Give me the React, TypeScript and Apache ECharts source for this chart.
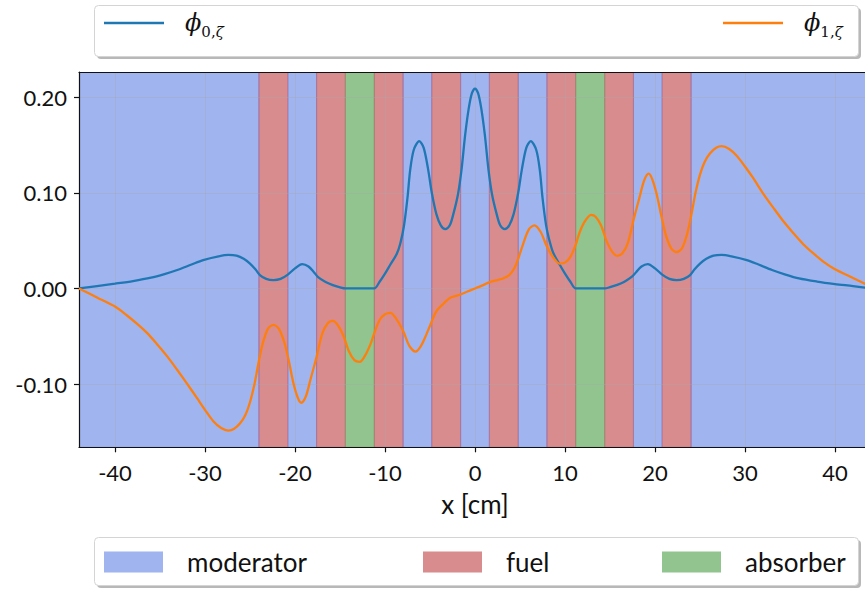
import React, { useEffect, useRef } from "react";
import * as echarts from "echarts";

// ---- data ----
const xTicks = [-40, -30, -20, -10, 0, 10, 20, 30, 40];
const yTicks = [-0.1, 0, 0.1, 0.2];

const moderatorSpans = [[-44, -24], [-20.8, -17.6], [-8, -4.8], [-1.6, 1.6], [4.8, 8], [17.6, 20.8], [24, 44]];
const fuelSpans = [[-24, -20.8], [-17.6, -14.4], [-11.2, -8], [-4.8, -1.6], [1.6, 4.8], [8, 11.2], [14.4, 17.6], [20.8, 24]];
const absorberSpans = [[-14.4, -11.2], [11.2, 14.4]];

const phi0X = [
  -44, -42, -40, -38, -36, -34.5, -33, -31.5, -30.2, -28.5, -27.4, -26.5, -25.7, -25.0, -24.4, -23.9, -23.2, -22.4,
  -21.6, -20.8, -20.0, -19.2, -18.5, -17.9, -17.4, -16.6, -15.8, -15.0, -14.4, -12.8, -11.2, -10.6, -10.0, -9.4,
  -8.7, -8.3, -7.9, -7.5, -7.2, -6.8, -6.2, -5.7, -5.2, -4.8, -4.3, -3.8, -3.3, -2.8, -2.4, -1.9, -1.5, -1.1, -0.7,
  -0.35, 0, 0.35, 0.7, 1.1, 1.5, 1.9, 2.4, 2.8, 3.3, 3.8, 4.3, 4.8, 5.2, 5.7, 6.2, 6.8, 7.2, 7.5, 7.9, 8.3, 8.7,
  9.4, 10.0, 10.6, 11.2, 12.8, 14.4, 15.0, 15.8, 16.6, 17.4, 17.9, 18.5, 19.2, 20.0, 20.8, 21.6, 22.4, 23.2, 23.9,
  24.4, 25.0, 25.7, 26.5, 27.4, 28.5, 30.2, 31.5, 33.0, 34.5, 36.0, 38.0, 40.0, 42.0, 44.0,
];
const phi0Y = [
  0, 0.0025, 0.005, 0.0077, 0.0112, 0.015, 0.0195, 0.025, 0.0296, 0.0335, 0.035, 0.0342, 0.031, 0.026, 0.02, 0.014,
  0.01, 0.0087, 0.01, 0.0145, 0.021, 0.0254, 0.023, 0.017, 0.0115, 0.0068, 0.0035, 0.0012, 0, 0, 0, 0.007, 0.0155,
  0.025, 0.036, 0.047, 0.065, 0.095, 0.124, 0.145, 0.154, 0.147, 0.124, 0.1, 0.078, 0.066, 0.062, 0.066, 0.078,
  0.098, 0.124, 0.16, 0.188, 0.204, 0.209, 0.204, 0.188, 0.16, 0.124, 0.098, 0.078, 0.066, 0.062, 0.066, 0.078,
  0.1, 0.124, 0.147, 0.154, 0.145, 0.124, 0.095, 0.066, 0.049, 0.037, 0.025, 0.0155, 0.007, 0, 0, 0, 0.0013, 0.0037,
  0.007, 0.012, 0.017, 0.023, 0.0254, 0.021, 0.0145, 0.01, 0.0087, 0.01, 0.014, 0.02, 0.026, 0.031, 0.0342, 0.035,
  0.0335, 0.0296, 0.025, 0.0193, 0.0145, 0.0105, 0.0072, 0.0046, 0.0024, 0,
];

const phi1X = [
  -44, -42, -40, -38.7, -37.6, -36.5, -35.4, -34.2, -33.1, -32.0, -30.9, -30.0, -29.1, -28.2, -27.4, -26.8, -26.1,
  -25.5, -25.0, -24.5, -24.1, -23.6, -23.0, -22.4, -21.8, -21.2, -20.7, -20.2, -19.7, -19.3, -18.8, -18.3, -17.6,
  -17.0, -16.4, -15.8, -15.2, -14.6, -14.0, -13.4, -12.8, -12.2, -11.6, -11.2, -10.6, -10.0, -9.4, -8.8, -8.0,
  -7.3, -6.6, -6.0, -5.4, -5.0, -4.3, -3.5, -2.8, -1.7, -0.9, 0, 0.9, 1.7, 2.5, 3.1, 3.8, 4.3, 4.8, 5.4, 6.0, 6.6,
  7.3, 8.0, 8.8, 9.4, 10.0, 10.6, 11.2, 11.6, 12.2, 12.9, 13.4, 14.0, 14.6, 15.2, 15.8, 16.4, 17.0, 17.6, 18.3,
  18.8, 19.3, 19.7, 20.2, 20.7, 21.2, 21.8, 22.4, 23.0, 23.6, 24.1, 24.5, 25.0, 25.5, 26.1, 26.8, 27.4, 28.2, 29.1,
  30.0, 30.9, 32.0, 33.1, 34.2, 35.4, 36.5, 37.6, 38.7, 40.0, 42.0, 43.3, 44.0,
];
const phi1Y = [
  0, -0.0095, -0.019, -0.028, -0.0366, -0.046, -0.0575, -0.071, -0.085, -0.0995, -0.1145, -0.127, -0.1385, -0.146,
  -0.1487, -0.147, -0.141, -0.132, -0.119, -0.1, -0.08, -0.058, -0.042, -0.038, -0.042, -0.056, -0.075, -0.098,
  -0.114, -0.1195, -0.113, -0.096, -0.0714, -0.048, -0.037, -0.034, -0.039, -0.05, -0.066, -0.075, -0.0767, -0.07,
  -0.058, -0.047, -0.033, -0.027, -0.0255, -0.031, -0.044, -0.06, -0.066, -0.06, -0.048, -0.039, -0.024, -0.016,
  -0.01, -0.0066, -0.0035, 0, 0.0035, 0.0068, 0.0088, 0.0104, 0.014, 0.02, 0.031, 0.048, 0.062, 0.066, 0.059,
  0.0435, 0.031, 0.026, 0.027, 0.033, 0.046, 0.058, 0.07, 0.077, 0.075, 0.066, 0.05, 0.039, 0.034, 0.037, 0.048,
  0.071, 0.096, 0.113, 0.12, 0.114, 0.098, 0.076, 0.056, 0.042, 0.038, 0.042, 0.058, 0.08, 0.1, 0.119, 0.132, 0.141,
  0.147, 0.1487, 0.146, 0.1385, 0.1275, 0.1155, 0.0995, 0.085, 0.071, 0.0575, 0.046, 0.0366, 0.028, 0.02, 0.011,
  0.005, 0.0015,
];

const X_MIN = -44;
const X_MAX = 44;
const Y_MIN = -0.1661;
const Y_MAX = 0.2263;

const FONT = "Lato";
const MATH = "DejaVu Serif";

function spanRender(fill: string, stroke: string) {
  return (params: any, api: any) => {
    const x0 = api.coord([api.value(0), 0])[0];
    const x1 = api.coord([api.value(1), 0])[0];
    const cs = params.coordSys;
    return {
      type: "rect",
      shape: { x: x0, y: cs.y, width: x1 - x0, height: cs.height },
      style: { fill, stroke, lineWidth: 1 },
    };
  };
}

export default function App() {
  const ref = useRef<HTMLDivElement>(null);
  useEffect(() => {
    if (!ref.current) return;
    const chart = echarts.init(ref.current, null, { renderer: "svg" });
    const modColor = "#a0b4ef";
    const fuelColor = "#d88c8e";
    const absColor = "#91c48f";
    const mathRich = () => ({
      g: { width: 16 },
      p: { fontFamily: MATH, fontStyle: "italic", fontSize: 24, lineHeight: 32, color: "#111" },
      s: { fontFamily: MATH, fontSize: 15, lineHeight: 22, verticalAlign: "bottom", color: "#111" },
      z: { fontFamily: MATH, fontStyle: "italic", fontSize: 15, lineHeight: 22, verticalAlign: "bottom", color: "#111" },
    });
    const option: any = {
      animation: false,
      textStyle: { fontFamily: FONT },
      grid: { left: 79, top: 72, width: 792, height: 375.3, containLabel: false },
      xAxis: [
        {
          type: "value",
          min: X_MIN,
          max: X_MAX,
          position: "bottom",
          z: 2,
          axisLine: { show: true, onZero: false, lineStyle: { color: "#111", width: 1.2 } },
          axisTick: { show: true, length: 5, customValues: xTicks, lineStyle: { color: "#111", width: 1.2 } },
          axisLabel: {
            customValues: xTicks,
            fontFamily: FONT,
            fontSize: 22,
            color: "#111",
            margin: 14,
            formatter: (v: number) => String(v),
          },
          splitLine: { show: true, lineStyle: { color: "rgba(170,170,170,0.35)", width: 1 } },
          name: "x [cm]",
          nameLocation: "middle",
          nameGap: 44,
          nameTextStyle: { fontFamily: FONT, fontSize: 26, color: "#111" },
        },
        {
          type: "value",
          min: X_MIN,
          max: X_MAX,
          position: "top",
          z: 2,
          axisLine: { show: true, onZero: false, lineStyle: { color: "#111", width: 1.2 } },
          axisTick: { show: false },
          axisLabel: { show: false },
          splitLine: { show: false },
        },
      ],
      yAxis: {
        type: "value",
        min: Y_MIN,
        max: Y_MAX,
        z: 2,
        axisLine: { show: true, onZero: false, lineStyle: { color: "#111", width: 1.2 } },
        axisTick: { show: true, length: 5, customValues: yTicks, lineStyle: { color: "#111", width: 1.2 } },
        axisLabel: {
          customValues: yTicks,
          fontFamily: FONT,
          fontSize: 22,
          color: "#111",
          margin: 12,
          formatter: (v: number) => v.toFixed(2),
        },
        splitLine: { show: true, lineStyle: { color: "rgba(170,170,170,0.35)", width: 1 } },
      },
      legend: [
        {
          data: ["ϕ0,ζ"],
          left: 104,
          top: 11,
          z: 10,
          padding: 0,
          icon: "rect",
          itemWidth: 60,
          itemHeight: 2.5,
          formatter: () => "{g|}{p|ϕ}{s|0,}{z|ζ}",
          textStyle: { rich: mathRich() },
          selectedMode: false,
        },
        {
          data: ["ϕ1,ζ"],
          left: 723,
          top: 11,
          z: 10,
          padding: 0,
          icon: "rect",
          itemWidth: 60,
          itemHeight: 2.5,
          formatter: () => "{g|}{p|ϕ}{s|1,}{z|ζ}",
          textStyle: { rich: mathRich() },
          selectedMode: false,
        },
        ...[
          ["moderator", 104],
          ["fuel", 423],
          ["absorber", 662],
        ].map(([name, left]) => ({
          data: [name],
          left,
          top: 549,
          z: 10,
          padding: 0,
          icon: "rect",
          itemWidth: 59,
          itemHeight: 21,
          formatter: (n: string) => "{g|}{t|" + n + "}",
          textStyle: {
            rich: {
              g: { width: 19 },
              t: { fontFamily: FONT, fontSize: 26, color: "#111", lineHeight: 21 },
            },
          },
          selectedMode: false,
        })),
      ],
      graphic: [
        { type: "rect", z: 1, shape: { x: 97, y: 8, width: 764, height: 51, r: 4 }, style: { fill: "rgba(0,0,0,0.28)" } },
        { type: "rect", z: 2, shape: { x: 94.5, y: 5.5, width: 764, height: 51, r: 4 }, style: { fill: "#fff", stroke: "#d4d4d4", lineWidth: 1 } },
        { type: "rect", z: 1, shape: { x: 97, y: 540, width: 764, height: 48, r: 4 }, style: { fill: "rgba(0,0,0,0.28)" } },
        { type: "rect", z: 2, shape: { x: 94.5, y: 537.5, width: 764, height: 48, r: 4 }, style: { fill: "#fff", stroke: "#d4d4d4", lineWidth: 1 } },
      ],
      series: [
        {
          name: "moderator",
          type: "custom",
          z: 1,
          clip: true,
          itemStyle: { color: modColor },
          encode: { x: [0, 1] },
          renderItem: spanRender(modColor, "rgba(65,105,225,0.35)"),
          data: moderatorSpans,
        },
        {
          name: "fuel",
          type: "custom",
          z: 1,
          clip: true,
          itemStyle: { color: fuelColor },
          encode: { x: [0, 1] },
          renderItem: spanRender(fuelColor, "rgba(150,60,110,0.45)"),
          data: fuelSpans,
        },
        {
          name: "absorber",
          type: "custom",
          z: 1,
          clip: true,
          itemStyle: { color: absColor },
          encode: { x: [0, 1] },
          renderItem: spanRender(absColor, "rgba(120,110,60,0.45)"),
          data: absorberSpans,
        },
        {
          name: "ϕ0,ζ",
          type: "line",
          z: 5,
          showSymbol: false,
          symbol: "none",
          smooth: 0.3,
          color: "#1f77b4",
          lineStyle: { color: "#1f77b4", width: 2.3 },
          data: phi0X.map((x, i) => [x, phi0Y[i]]),
        },
        {
          name: "ϕ1,ζ",
          type: "line",
          z: 5,
          showSymbol: false,
          symbol: "none",
          smooth: 0.3,
          color: "#ff7f0e",
          lineStyle: { color: "#ff7f0e", width: 2.3 },
          data: phi1X.map((x, i) => [x, phi1Y[i]]),
        },
      ],
    };
    chart.setOption(option);
    return () => chart.dispose();
  }, []);
  return (
    <div style={{ position: "fixed", left: 0, top: 0, width: 865, height: 590, overflow: "hidden", background: "#fff" }}>
      <div ref={ref} style={{ width: 880, height: 590 }} />
    </div>
  );
}
